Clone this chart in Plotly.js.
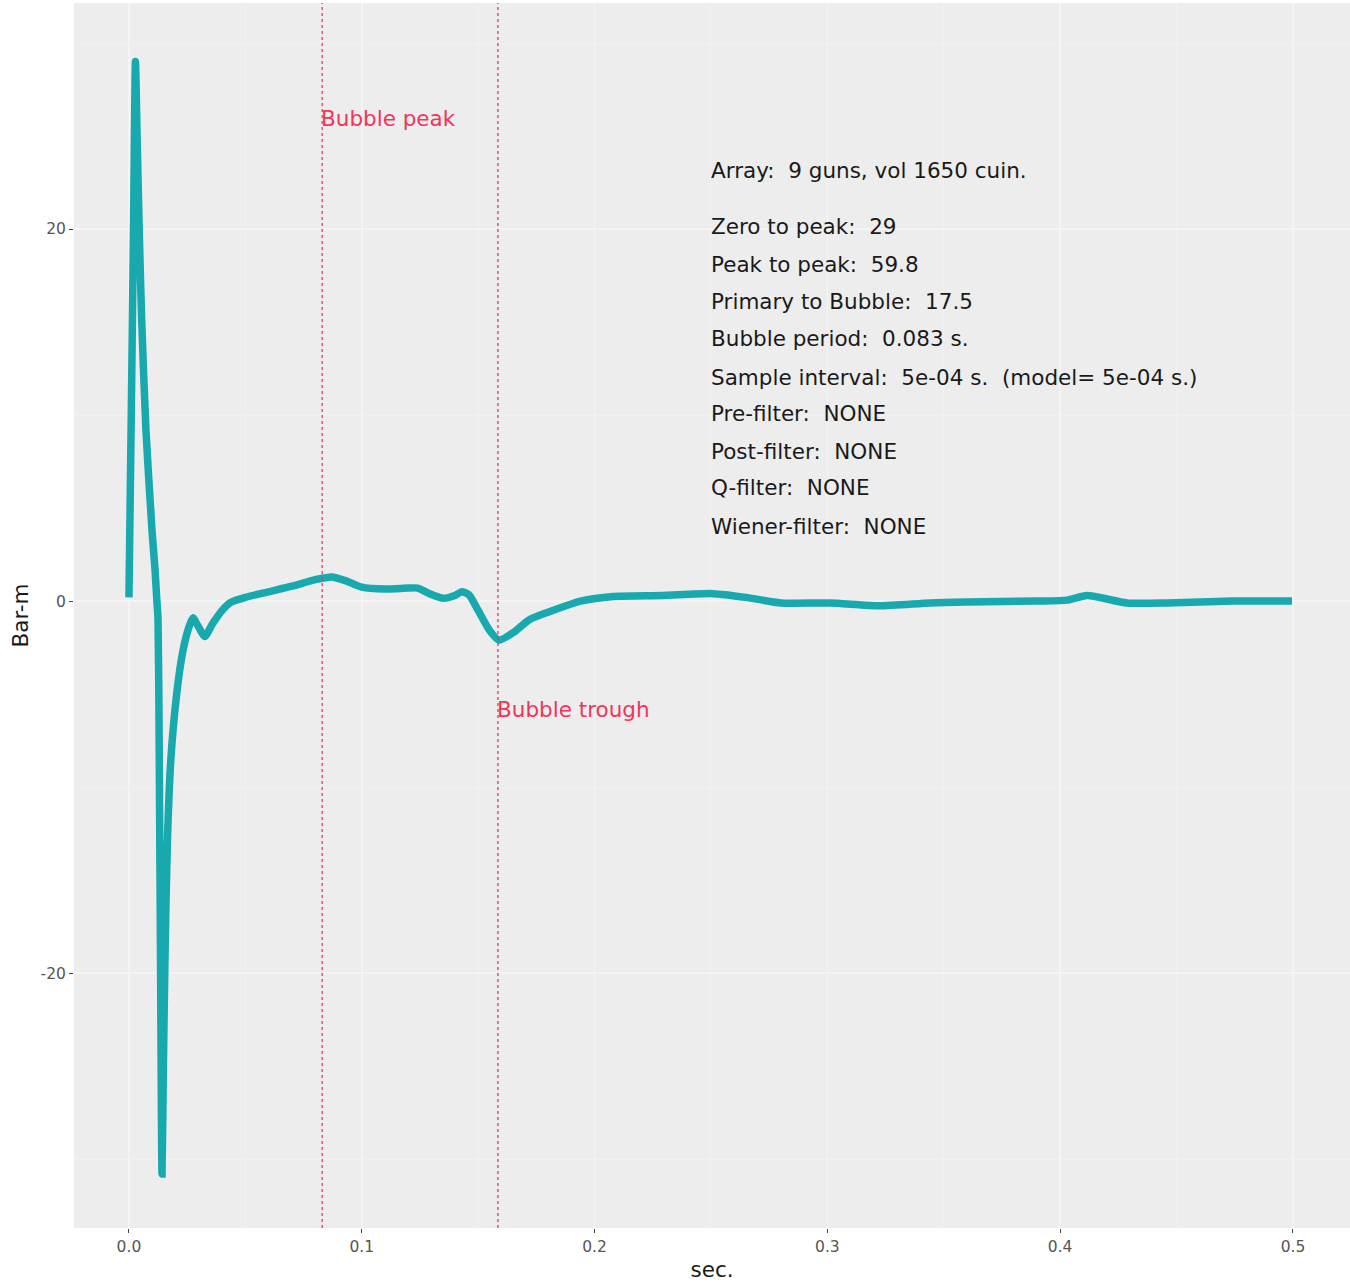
<!DOCTYPE html>
<html>
<head>
<meta charset="utf-8">
<script src="https://cdn.plot.ly/plotly-3.0.1.min.js"></script>
<style>html,body{margin:0;padding:0;background:#fff;}#chart{width:1350px;height:1283px;}</style>
</head>
<body>
<div id="chart"></div>
<script>
// Signature time axis (s) and amplitude (Bar-m)
const timeSec = [0, 0.001, 0.002, 0.0028, 0.0035, 0.0045, 0.0055, 0.0073, 0.0099, 0.0112, 0.012, 0.0125,
  0.013, 0.0136, 0.0142, 0.0148, 0.0155, 0.0165, 0.018, 0.0205, 0.023, 0.0255, 0.0275, 0.0295, 0.0326,
  0.036, 0.04, 0.044, 0.05, 0.06, 0.07, 0.08, 0.087, 0.093, 0.1, 0.11, 0.12, 0.124, 0.13, 0.135, 0.14,
  0.143, 0.146, 0.15, 0.155, 0.159, 0.165, 0.172, 0.18, 0.194, 0.208, 0.229, 0.251, 0.265, 0.28, 0.301,
  0.3226, 0.344, 0.36, 0.39, 0.403, 0.4115, 0.4287, 0.446, 0.474, 0.4996];
const barM = [0.2, 10, 20.5, 29, 25, 19.5, 15.0, 9.2, 3.8, 1.7, 0, -1,
  -8, -20, -30.8, -25, -19, -13, -8.5, -5, -2.8, -1.5, -0.9, -1.3, -1.9,
  -1.2, -0.5, -0.05, 0.2, 0.5, 0.8, 1.15, 1.3, 1.1, 0.75, 0.65, 0.7, 0.7, 0.35, 0.15, 0.3,
  0.5, 0.35, -0.5, -1.6, -2.1, -1.7, -1.0, -0.6, 0.0, 0.25, 0.3, 0.4, 0.2, -0.1, -0.1,
  -0.25, -0.1, -0.05, 0, 0.05, 0.3, -0.1, -0.1, 0, 0];

// Markers
const markerNames = ["Bubble peak", "Bubble trough"];
const markerTimes = [0.083, 0.1585];
const markerLabelY = [25.95, -5.85];

// Info block
const infoLines = [
  "Array:  9 guns, vol 1650 cuin.",
  "Zero to peak:  29",
  "Peak to peak:  59.8",
  "Primary to Bubble:  17.5",
  "Bubble period:  0.083 s.",
  "Sample interval:  5e-04 s.  (model= 5e-04 s.)",
  "Pre-filter:  NONE",
  "Post-filter:  NONE",
  "Q-filter:  NONE",
  "Wiener-filter:  NONE"
];
const infoY = [23.12, 20.16, 18.12, 16.13, 14.09, 12.04, 10.11, 8.06, 6.08, 4.03];
const infoX = 0.249;

const xTicks = [0, 0.1, 0.2, 0.3, 0.4, 0.5];
const xTickText = ["0.0", "0.1", "0.2", "0.3", "0.4", "0.5"];
const yTicks = [-20, 0, 20];
const yTickText = ["-20", "0", "20"];

const FONT = "'DejaVu Sans'";
const RED = "#f2345a";
const TXT = 21.5;

const shapes = markerTimes.map(t => ({
  type: "line", xref: "x", yref: "paper", x0: t, x1: t, y0: 0, y1: 1,
  line: {color: RED, width: 1.3, dash: "dot"}, layer: "above"
}));

const annotations = [];
markerNames.forEach((n, i) => annotations.push({
  x: markerTimes[i], y: markerLabelY[i], xref: "x", yref: "y", text: n, showarrow: false,
  xanchor: "left", yanchor: "middle", xshift: -3, font: {family: FONT, size: TXT, color: RED}
}));
infoLines.forEach((s, i) => annotations.push({
  x: infoX, y: infoY[i], xref: "x", yref: "y", text: s, showarrow: false,
  xanchor: "left", yanchor: "middle", font: {family: FONT, size: TXT, color: "#1a1a1a"}
}));

const trace = {
  x: timeSec, y: barM, type: "scatter", mode: "lines",
  line: {color: "#17a9ae", width: 7.5, shape: "spline", smoothing: 0.6}, hoverinfo: "skip"
};

const layout = {
  width: 1350, height: 1283,
  margin: {l: 74, r: 0, t: 3, b: 55},
  paper_bgcolor: "#ffffff", plot_bgcolor: "#ededed",
  showlegend: false,
  font: {family: FONT},
  xaxis: {
    range: [-0.0236, 0.5245], tickvals: xTicks, ticktext: xTickText,
    ticks: "outside", ticklen: 4, tickcolor: "#444", tickwidth: 1,
    tickfont: {family: FONT, size: 15.5, color: "#555555"},
    showgrid: true, gridcolor: "#f4f4f4", gridwidth: 1.5,
    minor: {tickvals: [0.05, 0.15, 0.25, 0.35, 0.45], showgrid: true, gridcolor: "#f1f1f1", gridwidth: 0.8},
    zeroline: false, showline: false,
    title: {text: "sec.", font: {family: FONT, size: TXT, color: "#1a1a1a"}, standoff: 7}
  },
  yaxis: {
    range: [-33.7, 32.15], tickvals: yTicks, ticktext: yTickText,
    ticks: "outside", ticklen: 4, tickcolor: "#444", tickwidth: 1,
    tickfont: {family: FONT, size: 15.5, color: "#555555"},
    showgrid: true, gridcolor: "#f4f4f4", gridwidth: 1.5,
    minor: {tickvals: [-30, -10, 10, 30], showgrid: true, gridcolor: "#f1f1f1", gridwidth: 0.8},
    zeroline: false, showline: false,
    title: {text: "Bar-m", font: {family: FONT, size: TXT, color: "#1a1a1a"}, standoff: 6}
  },
  shapes: shapes,
  annotations: annotations
};

Plotly.newPlot("chart", [trace], layout, {displayModeBar: false, staticPlot: true});
</script>
</body>
</html>
